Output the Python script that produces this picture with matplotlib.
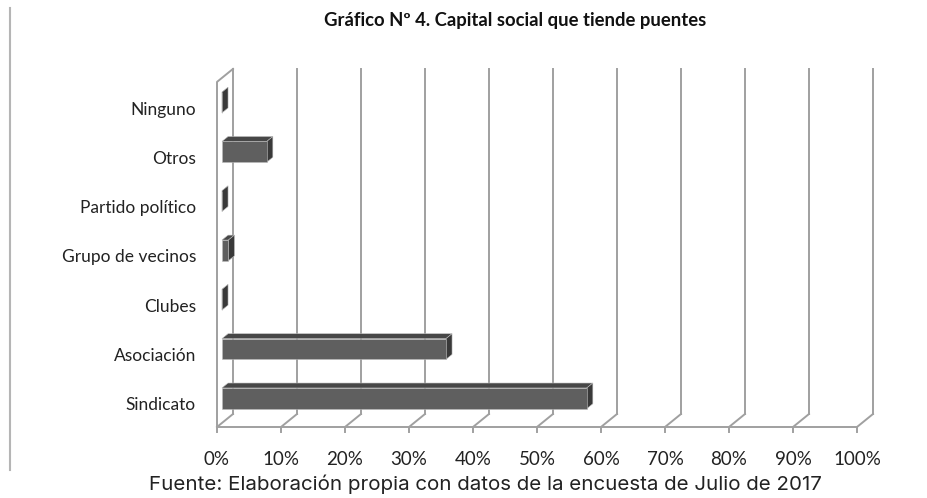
import matplotlib
matplotlib.use("Agg")
import matplotlib.pyplot as plt
from matplotlib.patches import Polygon
from matplotlib.lines import Line2D

# data (percent of respondents)
categories = ["Sindicato", "Asociación", "Clubes", "Grupo de vecinos",
              "Partido político", "Otros", "Ninguno"]
values = [57, 35, 0, 1, 0, 7, 0]
xticks = [0, 10, 20, 30, 40, 50, 60, 70, 80, 90, 100]
xticklabels = ["%d%%" % t for t in xticks]

title = "Gráfico Nº 4. Capital social que tiende puentes"
source = "Fuente: Elaboración propia con datos de la encuesta de Julio de 2017"

W, H = 928, 498
X0, PX_X = 217.0, 6.4      # pixel of 0 %, pixels per percent
Y0, PX_Y = 427.0, 49.3     # pixel of the floor front edge, pixels per category
DX = 16.0 / PX_X           # oblique depth offset (percent units)
DY = 13.0 / PX_Y           # oblique depth offset (category units)
BAR_H = 0.21
D_FRONT, D_BACK = 0.31, 0.69

GRID = "#a0a0a0"
FACE = "#5f5f5f"
TOP = "#474747"
SIDE = "#393939"


def proj(v, c, d):
    return (v + d * DX, c + d * DY)


fig = plt.figure(figsize=(W / 100.0, H / 100.0), dpi=100)
ax = fig.add_axes([0, 0, 1, 1])
ax.set_xlim(-X0 / PX_X, (W - X0) / PX_X)
ax.set_ylim(-0.5 - (H - Y0) / PX_Y, -0.5 + Y0 / PX_Y)
ax.axis("off")

ymin, ymax = -0.5, len(categories) - 0.5

# back wall gridlines, floor diagonals and ticks
for t, lab in zip(xticks, xticklabels):
    bx, by = proj(t, ymin, 1)
    tx, ty = proj(t, ymax, 1)
    ax.plot([bx, tx], [by, ty], color=GRID, lw=1.4, zorder=1)
    ax.plot([t, bx], [ymin, by], color=GRID, lw=1.4, zorder=1)
    ax.plot([t, t], [ymin, ymin - 5.0 / PX_Y], color=GRID, lw=1.4, zorder=1)
    ax.text(t, ymin - 32.0 / PX_Y, lab, ha="center", va="center",
            fontsize=13.5, family="Lato", color="#222222")

# floor front edge and left wall
ax.plot([xticks[0], xticks[-1]], [ymin, ymin], color=GRID, lw=1.4, zorder=1)
tx, ty = proj(0, ymax, 1)
ax.plot([0, 0, tx], [ymin, ymax, ty], color=GRID, lw=1.4, zorder=1)

# bars
for i, (cat, v) in enumerate(zip(categories, values)):
    lo, hi = i - BAR_H, i + BAR_H
    front = [proj(0, lo, D_FRONT), proj(v, lo, D_FRONT),
             proj(v, hi, D_FRONT), proj(0, hi, D_FRONT)]
    top = [proj(0, hi, D_FRONT), proj(v, hi, D_FRONT),
           proj(v, hi, D_BACK), proj(0, hi, D_BACK)]
    side = [proj(v, lo, D_FRONT), proj(v, lo, D_BACK),
            proj(v, hi, D_BACK), proj(v, hi, D_FRONT)]
    for pts, col in ((top, TOP), (side, SIDE), (front, FACE)):
        ax.add_patch(Polygon(pts, closed=True, facecolor=col,
                             edgecolor="#bbbbbb", lw=0.4, zorder=3))
    ax.text(-21.0 / PX_X, i - 3.0 / PX_Y, cat, ha="right", va="center",
            fontsize=12.5, family="Lato", color="#222222")

fig.text(515 / W, 1 - 20 / H, title, ha="center", va="center",
         fontsize=13.3, fontweight="bold", family="Lato", color="#111111")
fig.text(485 / W, 1 - 484 / H, source, ha="center", va="center",
         fontsize=14.8, family="Inter", color="#222222")

fig.add_artist(Line2D([10 / W, 10 / W], [1 - 8 / H, 1 - 470 / H],
                      color="#b5b5b5", lw=1.5))

fig.savefig("out.png", dpi=100)
